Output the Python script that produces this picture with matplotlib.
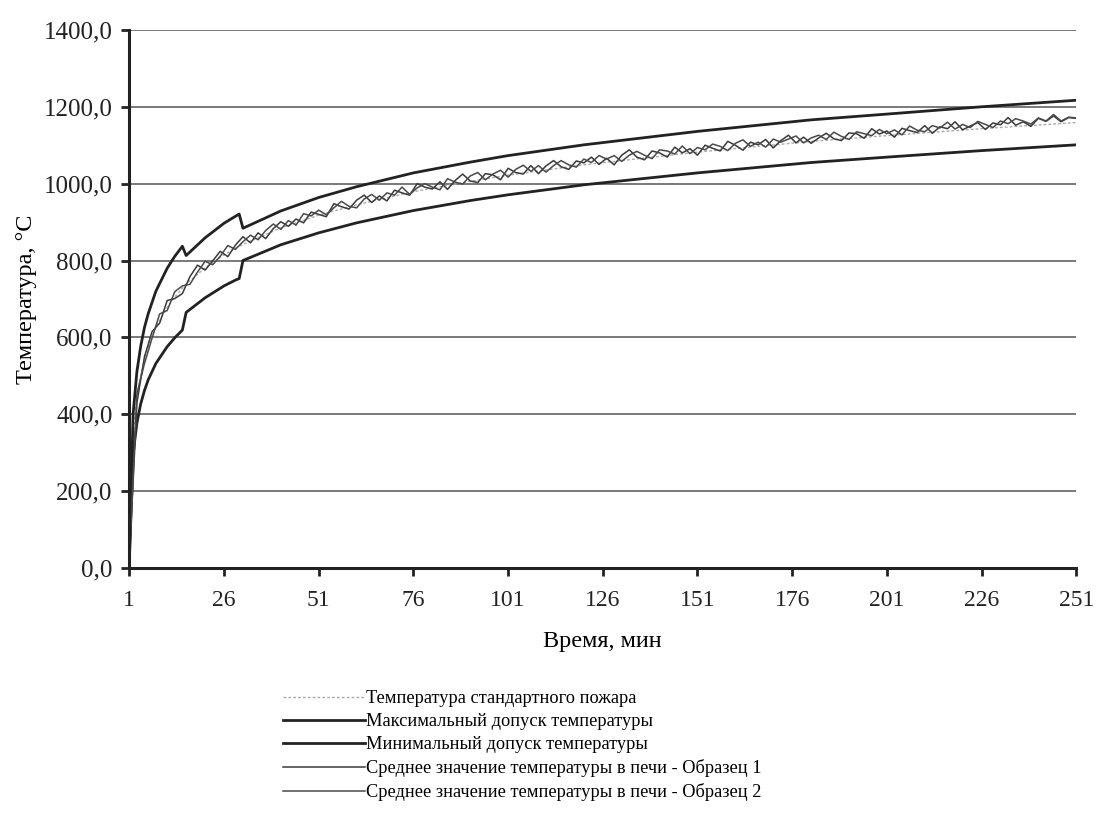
import matplotlib.pyplot as plt
from matplotlib.ticker import FuncFormatter

plt.rcParams["font.family"] = ["Liberation Serif", "DejaVu Serif"]

# x axis is the row number (minute + 1)
bound_x = [1, 2, 3, 4, 5, 6, 8, 11, 13, 15, 16, 21, 26, 29, 30, 31, 41, 51, 61,
           76, 91, 101, 121, 151, 181, 201, 226, 251]
standard = [20, 349, 444, 502, 544, 576, 626, 678, 705, 728, 739, 781, 815, 832,
            837, 842, 885, 918, 945, 979, 1006, 1022, 1049, 1082, 1110, 1125, 1143, 1159]
max_tol = [23, 401, 511, 577, 626, 662, 720, 780, 811, 837, 813, 859, 897, 915,
           921, 884, 929, 964, 992, 1028, 1056, 1073, 1101, 1136, 1166, 1181, 1200, 1217]
min_tol = [17, 297, 377, 427, 462, 490, 532, 576, 599, 619, 665, 703, 734, 749,
           753, 800, 841, 872, 898, 930, 956, 971, 997, 1028, 1055, 1069, 1086, 1101]

meas_x = list(range(1, 252, 2))
sample1 = [20, 429, 550, 615, 637, 696, 701, 714, 758, 788, 775, 799, 824, 810,
           840, 862, 846, 872, 857, 883, 901, 889, 908, 898, 926, 920, 914, 948,
           940, 934, 957, 970, 951, 968, 955, 983, 976, 970, 1000, 991, 986, 1005,
           985, 1008, 1025, 1007, 1003, 1026, 1023, 1010, 1040, 1029, 1025, 1047,
           1026, 1046, 1060, 1044, 1037, 1059, 1054, 1069, 1050, 1066, 1049, 1074,
           1088, 1069, 1062, 1085, 1080, 1069, 1095, 1080, 1091, 1074, 1100, 1092,
           1085, 1110, 1100, 1087, 1108, 1101, 1115, 1093, 1112, 1126, 1106, 1121,
           1105, 1119, 1131, 1117, 1112, 1132, 1130, 1118, 1143, 1129, 1137, 1121,
           1144, 1138, 1133, 1151, 1131, 1148, 1143, 1161, 1140, 1150, 1159, 1141,
           1158, 1153, 1172, 1152, 1161, 1149, 1170, 1162, 1176, 1161, 1172, 1170]
sample2 = [20, 454, 532, 598, 661, 670, 719, 734, 738, 770, 798, 789, 811, 839,
           829, 849, 866, 854, 878, 895, 881, 904, 892, 922, 916, 931, 919, 937,
           954, 941, 937, 960, 972, 957, 976, 970, 991, 972, 989, 1000, 991, 984,
           1013, 1004, 999, 1020, 1029, 1010, 1025, 1035, 1017, 1037, 1048, 1032,
           1047, 1030, 1047, 1060, 1049, 1043, 1064, 1055, 1073, 1064, 1073, 1058,
           1074, 1084, 1074, 1065, 1088, 1085, 1077, 1098, 1078, 1094, 1088, 1103,
           1097, 1086, 1105, 1114, 1097, 1108, 1095, 1116, 1108, 1116, 1124, 1106,
           1119, 1126, 1115, 1134, 1123, 1115, 1135, 1130, 1125, 1141, 1130, 1140,
           1127, 1150, 1139, 1135, 1151, 1145, 1160, 1142, 1154, 1146, 1162, 1154,
           1146, 1163, 1156, 1169, 1163, 1155, 1171, 1163, 1180, 1163, 1173, 1171]

x_ticks = list(range(1, 252, 25))
y_ticks = list(range(0, 1401, 200))

labels = ["Температура стандартного пожара",
          "Максимальный допуск температуры",
          "Минимальный допуск температуры",
          "Среднее значение температуры в печи - Образец 1",
          "Среднее значение температуры в печи - Образец 2"]

fig = plt.figure(figsize=(10.96, 8.31), dpi=100)
ax = fig.add_axes([0.118, 0.3165, 0.864, 0.6475])

ax.plot(bound_x, standard, color="#aaaaaa", lw=1, ls=(0, (2, 1.5)), label=labels[0])
ax.plot(bound_x, max_tol, color="#222222", lw=2, label=labels[1])
ax.plot(bound_x, min_tol, color="#222222", lw=2, label=labels[2])
ax.plot(meas_x, sample1, color="#3a3a3a", lw=1.1, label=labels[3])
ax.plot(meas_x, sample2, color="#4a4a4a", lw=1.1, label=labels[4])

ax.set_xlim(1, 251)
ax.set_ylim(0, 1400)
ax.set_xticks(x_ticks)
ax.set_yticks(y_ticks)
ax.yaxis.set_major_formatter(FuncFormatter(lambda v, p: f"{v:.1f}".replace(".", ",")))
ax.grid(axis="y", color="#555555", lw=1.1)
ax.set_axisbelow(True)
for s in ["top", "right"]:
    ax.spines[s].set_visible(False)
for s in ["left", "bottom"]:
    ax.spines[s].set_linewidth(2.2)
    ax.spines[s].set_color("#222222")
ax.tick_params(axis="both", width=2, length=6, colors="#222222")
ax.tick_params(axis="y", pad=6, labelsize=18)
ax.tick_params(axis="x", pad=10, labelsize=17)

ax.set_xlabel("Время, мин", fontsize=17.5, labelpad=14)
ax.set_ylabel("Температура, °C", fontsize=17.5, labelpad=5)

leg = fig.legend(loc="upper left", frameon=False,
                 fontsize=13.2, handlelength=4.5, handletextpad=0.05, labelspacing=0.33,
                 borderpad=0, borderaxespad=0)
leg.set_bbox_to_anchor((0.258, 1 - 690 / 831), transform=fig.transFigure)

fig.savefig("out.png", dpi=100)
